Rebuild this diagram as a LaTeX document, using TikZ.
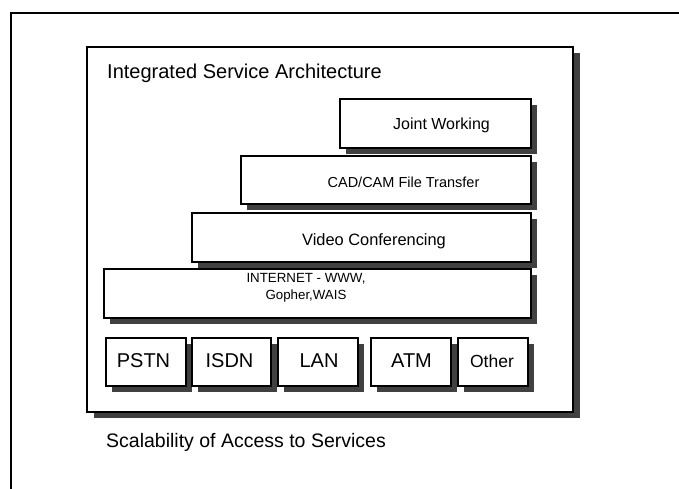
\documentclass[tikz,border=0pt]{standalone}
\usepackage{fontspec}
\setmainfont{Liberation Sans}
\usetikzlibrary{shadows}

\newcommand{\fsz}[1]{\fontsize{#1}{#1}\selectfont}

\tikzset{
  shade6/.style={drop shadow={shadow xshift=6pt, shadow yshift=-6pt, fill=black!75, opacity=1}},
  layerbox/.style={draw, line width=1.4pt, fill=white, inner sep=0pt, shade6},
  netbox/.style={layerbox},
  caption/.style={anchor=base, inner sep=0pt},
}

\begin{document}
\begin{tikzpicture}[x=1pt, y=-1pt]
  \useasboundingbox (0,0) rectangle (679,489);

  % page frame: only the top and left edges show
  \draw[line width=1.4pt] (11,489) -- (11,13) -- (679,13);

  % architecture panel
  \node[draw, line width=1.4pt, fill=white, inner sep=0pt,
        drop shadow={shadow xshift=7pt, shadow yshift=-6pt, fill=black!75, opacity=1},
        minimum width=486pt, minimum height=365pt] (panel) at (330,229.5) {};
  \node[anchor=base west, inner sep=0pt] (title) at (107,79)
    {\fsz{20}Integrated Service Architecture};

  % service layers
  \node[layerbox, minimum width=191pt, minimum height=49pt] (joint)    at (435.5,123.5) {};
  \node[layerbox, minimum width=290pt, minimum height=48pt] (cadcam)   at (386,180) {};
  \node[layerbox, minimum width=339pt, minimum height=49pt] (video)    at (361.5,237.5) {};
  \node[layerbox, minimum width=427pt, minimum height=49pt] (internet) at (317.5,293.5) {};

  \node[caption] (tjoint)  at (441.5,129.5) {\fsz{16}Joint Working};
  \node[caption] (tcad)    at (403.5,187)   {\fsz{14.5}CAD/CAM File Transfer};
  \node[caption] (tvideo)  at (374,245)     {\fsz{16.4}Video Conferencing};
  \node[caption] (tnet1)   at (306,282.7)   {\fsz{13.3}INTERNET - WWW,};
  \node[caption] (tnet2)   at (306,299.2)   {\fsz{13.3}Gopher,WAIS};

  % access networks
  \node[netbox, minimum width=80pt, minimum height=48pt] (pstn)  at (146,362) {};
  \node[netbox, minimum width=79pt, minimum height=48pt] (isdn)  at (231.5,362) {};
  \node[netbox, minimum width=80pt, minimum height=48pt] (lan)   at (318,362) {};
  \node[netbox, minimum width=80pt, minimum height=48pt] (atm)   at (411,362) {};
  \node[netbox, minimum width=70pt, minimum height=48pt] (other) at (493,362) {};

  \node[caption] (tpstn)  at (143.5,367.3) {\fsz{20}PSTN};
  \node[caption] (tisdn)  at (229.5,367.3) {\fsz{20}ISDN};
  \node[caption] (tlan)   at (319,367.3)   {\fsz{20}LAN};
  \node[caption] (tatm)   at (411.5,367.3) {\fsz{20}ATM};
  \node[caption] (tother) at (492,367.3)   {\fsz{17.5}Other};

  % footer
  \node[anchor=base west, inner sep=0pt] (footer) at (106,447)
    {\fsz{19.5}Scalability of Access to Services};
\end{tikzpicture}
\end{document}
